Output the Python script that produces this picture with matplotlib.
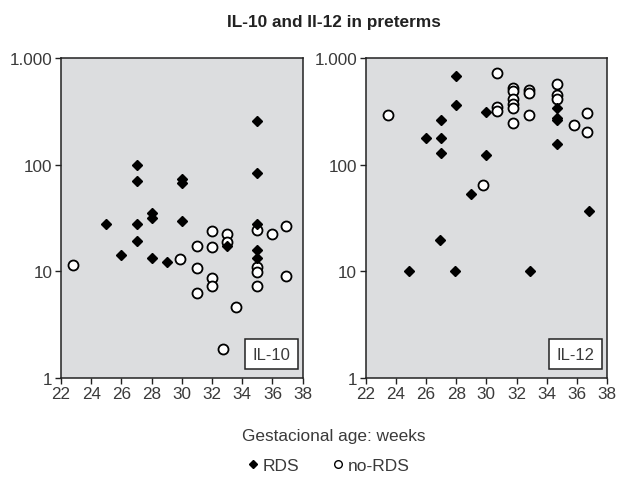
import numpy as np
import matplotlib
matplotlib.use("Agg")
import matplotlib.pyplot as plt
from matplotlib.ticker import FixedLocator, NullLocator

plt.rcParams['font.family'] = ['Liberation Sans', 'DejaVu Sans']

# IL-10 panel
il10_rds_age = [25, 26, 27, 27, 27, 27, 28, 28, 28, 29, 30, 30, 30, 33, 35, 35, 35, 35, 35]
il10_rds_val = [27.6, 14.3, 100, 71, 27.6, 19.4, 35.2, 31.5, 13.2, 12.3, 73.6, 67.5, 29.7, 17.4,
                259, 84, 27.6, 16.0, 13.3]
il10_no_age = [22.8, 29.9, 31, 31, 31, 32, 32, 32, 32, 33, 33, 32.7, 33.6, 35, 35, 35, 35, 36, 36.9, 36.9]
il10_no_val = [11.5, 12.9, 17.4, 10.7, 6.3, 23.8, 16.8, 8.7, 7.2, 22.6, 18.7, 1.85, 4.6,
               24.6, 11.0, 9.9, 7.2, 22.3, 26.5, 9.1]

# IL-12 panel
il12_rds_age = [28, 28, 27, 26, 27, 27, 30, 30, 29, 34.7, 34.7, 34.7, 34.7, 36.8, 24.9, 26.9, 27.9, 32.9]
il12_rds_val = [687, 367, 263, 177, 177, 130, 315, 124, 53, 341, 275, 263, 157, 36.8, 10, 19.5, 10, 10]
il12_no_age = [23.5, 30.7, 30.7, 30.7, 31.8, 31.8, 31.8, 31.8, 31.8, 31.8, 32.8, 32.8, 32.8,
               34.7, 34.7, 34.7, 35.8, 36.7, 36.7, 29.8]
il12_no_val = [295, 728, 351, 318, 526, 490, 415, 372, 339, 247, 507, 472, 294,
               570, 452, 415, 235, 308, 203, 64.6]

x_ticks = list(range(22, 39, 2))
y_ticks = [1, 10, 100, 1000]
y_labels = ['1', '10', '100', '1.000']

txt = '#3a3a3a'

fig = plt.figure(figsize=(6.17, 4.85), dpi=100)
ax1 = fig.add_axes([61 / 617, 1 - 378.7 / 485, 241.7 / 617, 319.4 / 485])
ax2 = fig.add_axes([365.7 / 617, 1 - 378.7 / 485, 241.3 / 617, 319.4 / 485])

panels = [
    (ax1, il10_rds_age, il10_rds_val, il10_no_age, il10_no_val, 'IL-10'),
    (ax2, il12_rds_age, il12_rds_val, il12_no_age, il12_no_val, 'IL-12'),
]

for ax, ra, rv, na, nv, name in panels:
    ax.set_facecolor('#dcdddf')
    ax.plot(na, nv, 'o', ls='none', mfc='white', mec='black', mew=1.3, ms=7.2, label='no-RDS')
    ax.plot(ra, rv, 'D', ls='none', color='black', ms=5.4, label='RDS')
    ax.set_yscale('log')
    ax.set_xlim(22, 38)
    ax.set_ylim(1, 1000)
    ax.xaxis.set_major_locator(FixedLocator(x_ticks))
    ax.yaxis.set_major_locator(FixedLocator(y_ticks))
    ax.yaxis.set_minor_locator(NullLocator())
    ax.set_yticklabels(y_labels)
    ax.tick_params(direction='out', length=4.2, width=1, labelsize=12.3,
                   labelcolor=txt, color='#222222', pad=2)
    for sp in ax.spines.values():
        sp.set_linewidth(1.1)
        sp.set_color('#222222')
    ax.text(0.95, 0.05, name, transform=ax.transAxes, ha='right', va='bottom',
            fontsize=12, color=txt,
            bbox=dict(boxstyle='square,pad=0.45', fc='white', ec='#222222', lw=1.1))

cx = 334 / 617
fig.text(cx, 1 - 22 / 485, 'IL-10 and Il-12 in preterms', ha='center', va='center',
         fontsize=12.4, fontweight='bold', color='#222222')
fig.text(cx, 1 - 437 / 485, 'Gestacional age: weeks', ha='center', va='center',
         fontsize=12.4, color=txt)

h_no, = ax1.plot([], [], 'o', ls='none', mfc='white', mec='black', mew=1.0, ms=5.5)
h_rds, = ax1.plot([], [], 'D', ls='none', color='black', ms=4.2)
fig.legend([h_rds, h_no], ['RDS', 'no-RDS'], loc='center', bbox_to_anchor=(329 / 617, 1 - 466 / 485),
           ncol=2, frameon=False, fontsize=12.5, handlelength=0.5, handletextpad=0.3,
           columnspacing=2.0, labelcolor=txt)

fig.savefig('out.png', dpi=100)
